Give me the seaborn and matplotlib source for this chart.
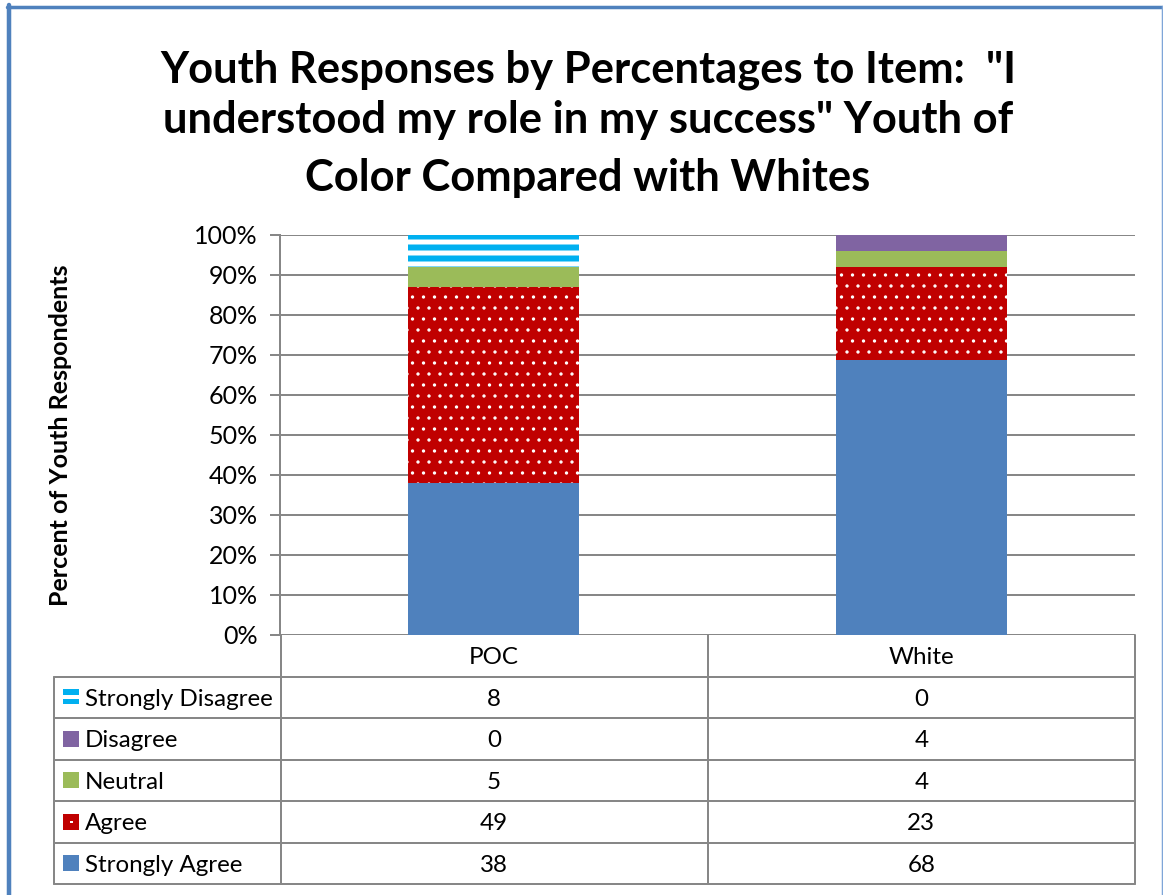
import matplotlib
matplotlib.use("Agg")
import matplotlib.pyplot as plt
import matplotlib.transforms as mtransforms
from matplotlib.lines import Line2D
from matplotlib.patches import Rectangle
import numpy as np
import seaborn as sns

# ---- data -------------------------------------------------------------
groups = ["POC", "White"]
strongly_disagree = [8, 0]
disagree = [0, 4]
neutral = [5, 4]
agree = [49, 23]
strongly_agree = [38, 68]
y_ticks = [0, 10, 20, 30, 40, 50, 60, 70, 80, 90, 100]
y_tick_labels = [f"{v}%" for v in y_ticks]
title_lines = [
    'Youth Responses by Percentages to Item:  "I',
    'understood my role in my success" Youth of',
    "Color Compared with Whites",
]
y_label = "Percent of Youth Respondents"

# series listed from the bottom of the stack to the top
series_names = ["Strongly Agree", "Agree", "Neutral", "Disagree", "Strongly Disagree"]
series_counts = [strongly_agree, agree, neutral, disagree, strongly_disagree]

# ---- styling ----------------------------------------------------------
DPI = 132
W, H = 1163, 895
PT = 72.0 / DPI  # points per pixel

styles = {
    "Strongly Agree":    dict(face="#4F81BD", edge="#4F81BD", hatch=None, hlw=0.5),
    "Agree":             dict(face="#C00000", edge="#FFFFFF", hatch="..", hlw=0.6),
    "Neutral":           dict(face="#9BBB59", edge="#9BBB59", hatch=None, hlw=0.5),
    "Disagree":          dict(face="#8064A2", edge="#8064A2", hatch=None, hlw=0.5),
    "Strongly Disagree": dict(face="#FFFFFF", edge="#00B0F0", hatch="--", hlw=6 * PT),
}
GRID = "#878787"
BORDER = "#4F81BD"
FONT = "Lato"

sns.set_theme(style="white")
plt.rcParams["font.family"] = [FONT, "DejaVu Sans"]
plt.rcParams["text.color"] = "black"


def fx(px):
    return px / W


def fy(py):
    return 1.0 - py / H


fig = plt.figure(figsize=(W / DPI, H / DPI), dpi=DPI)
fig.patch.set_facecolor("white")

ax_left, ax_right, ax_top, ax_bottom = 280, 1135, 235, 635
ax = fig.add_axes([fx(ax_left), fy(ax_bottom), (ax_right - ax_left) / W, (ax_bottom - ax_top) / H])

# ---- stacked 100% bars --------------------------------------------------
counts = np.array(series_counts, dtype=float)
totals = counts.sum(axis=0)
shares = counts / totals * 100.0
tops = np.cumsum(shares, axis=0)

# draw from the top segment down so each lower segment covers the one above
for idx in reversed(range(len(series_names))):
    name = series_names[idx]
    st = styles[name]
    n_before = len(ax.patches)
    sns.barplot(x=groups, y=list(tops[idx]), ax=ax, width=0.4, color=st["face"],
                saturation=1, errorbar=None, zorder=3)
    for p in ax.patches[n_before:]:
        p.set_facecolor(st["face"])
        p.set_edgecolor(st["edge"])
        p.set_linewidth(0)
        if st["hatch"]:
            p.set_hatch(st["hatch"])
            if hasattr(p, "set_hatch_linewidth"):
                p.set_hatch_linewidth(st["hlw"])

ax.set_xlim(-0.5, 1.5)
ax.set_ylim(0, 100)
ax.set_yticks(y_ticks)
ax.set_yticklabels(y_tick_labels)
ax.set_xticks([])
ax.set_xlabel("")
ax.set_ylabel("")
ax.yaxis.grid(True, color=GRID, linewidth=2 * PT, zorder=0)
ax.set_axisbelow(True)
for side in ["top", "right", "bottom"]:
    ax.spines[side].set_visible(False)
ax.spines["left"].set_color(GRID)
ax.spines["left"].set_linewidth(2 * PT)
ax.tick_params(axis="y", direction="out", length=10 * PT, width=2 * PT, color=GRID,
               pad=12 * PT, labelsize=25 * PT, labelcolor="black", left=True)
for lab in ax.get_yticklabels():
    lab.set_fontfamily([FONT, "DejaVu Sans"])

ax.text(-0.257, 0.5, y_label, transform=ax.transAxes, rotation=90, ha="center", va="center",
        fontsize=25 * PT, fontweight="bold", color="black")

# ---- data table below the plot -------------------------------------------
row_top = 676.5
row_h = 41.5
n_rows = len(series_names)
table_bottom = row_top + row_h * n_rows
tbl_left = 54
lw_tbl = 2 * PT

# x in data units (category positions), y in figure fraction
blend = mtransforms.blended_transform_factory(ax.transData, fig.transFigure)

# vertical rules
for xv in (ax_left + 0.7, (ax_left + ax_right) / 2, ax_right):
    fig.add_artist(Line2D([fx(xv), fx(xv)], [fy(ax_bottom), fy(table_bottom)],
                          color=GRID, linewidth=lw_tbl, transform=fig.transFigure))
fig.add_artist(Line2D([fx(tbl_left), fx(tbl_left)], [fy(row_top), fy(table_bottom)],
                      color=GRID, linewidth=lw_tbl, transform=fig.transFigure))
# horizontal rules
for k in range(n_rows + 1):
    yy = row_top + k * row_h
    fig.add_artist(Line2D([fx(tbl_left), fx(ax_right)], [fy(yy), fy(yy)],
                          color=GRID, linewidth=lw_tbl, transform=fig.transFigure))

TXT = 24.2 * PT
cap_half = 8.5

# header row with group names
for i, g in enumerate(groups):
    fig.text(i, fy((ax_bottom + row_top) / 2 + cap_half), g, transform=blend,
             ha="center", va="baseline", fontsize=TXT)

# rows listed top to bottom: reverse of stacking order
for r, idx in enumerate(reversed(range(n_rows))):
    name = series_names[idx]
    st = styles[name]
    yc = row_top + row_h * (r + 0.5)
    # legend key
    kx0, kx1 = 63, 79
    if name == "Strongly Disagree":
        for y0, y1 in ((yc - 8, yc - 2), (yc + 2, yc + 7)):
            fig.add_artist(Rectangle((fx(kx0), fy(y1)), fx(kx1) - fx(kx0), fy(y0) - fy(y1),
                                     transform=fig.transFigure, facecolor=st["edge"],
                                     edgecolor="none"))
    else:
        fig.add_artist(Rectangle((fx(kx0), fy(yc + 8)), fx(kx1) - fx(kx0), fy(yc - 8) - fy(yc + 8),
                                 transform=fig.transFigure, facecolor=st["face"],
                                 edgecolor="none"))
        if name == "Agree":
            fig.add_artist(Rectangle((fx(70), fy(yc + 1.5)), fx(2.5), fy(yc - 1) - fy(yc + 1.5),
                                     transform=fig.transFigure, facecolor="white",
                                     edgecolor="none"))
    fig.text(fx(85), fy(yc + cap_half), name, ha="left", va="baseline", fontsize=TXT)
    for i in range(len(groups)):
        fig.text(i, fy(yc + cap_half), f"{int(series_counts[idx][i])}", transform=blend,
                 ha="center", va="baseline", fontsize=TXT)

# ---- title ----------------------------------------------------------------
title_baselines = [82, 133, 191]
for line, yb in zip(title_lines, title_baselines):
    fig.text(fx(588), fy(yb), line, ha="center", va="baseline", fontsize=43.5 * PT,
             fontweight="bold")

# ---- chart frame ---------------------------------------------------------
fig.add_artist(Line2D([fx(9.2), fx(9.2)], [fy(5), fy(H + 5)], color=BORDER,
                      linewidth=4.5 * PT, transform=fig.transFigure))
fig.add_artist(Line2D([fx(7), fx(1162)], [fy(6.7), fy(6.7)], color=BORDER,
                      linewidth=3.5 * PT, transform=fig.transFigure))
fig.add_artist(Line2D([fx(1161.8), fx(1161.8)], [fy(6), fy(H + 5)], color="#7FA6D8",
                      linewidth=1.5 * PT, transform=fig.transFigure))

fig.savefig("out.png", dpi=DPI, facecolor="white")
